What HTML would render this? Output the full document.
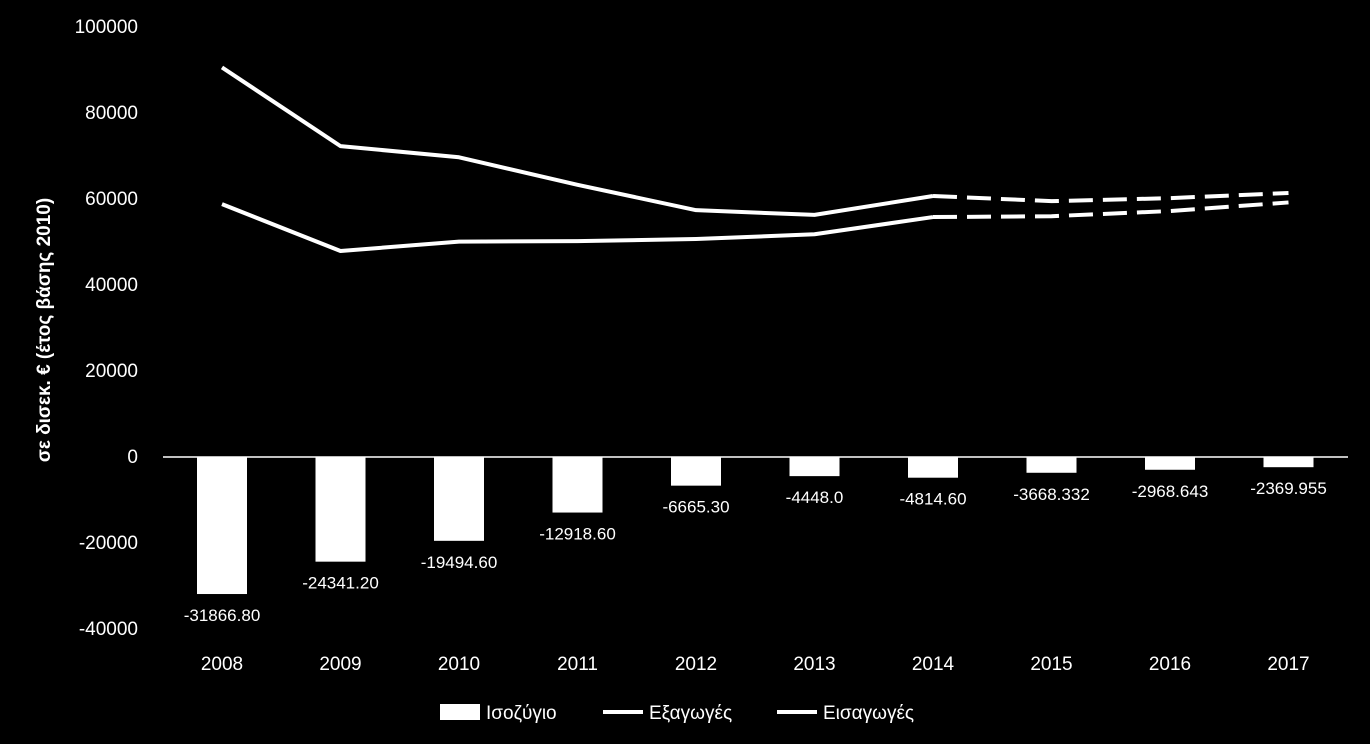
<!DOCTYPE html>
<html><head><meta charset="utf-8"><style>
body{margin:0;background:#000;}
svg{display:block;font-family:"Liberation Sans",sans-serif;}
</style></head><body>
<svg id="c" width="1370" height="744" viewBox="0 0 1370 744">
<rect width="1370" height="744" fill="#000"/>
<text transform="translate(50,330) rotate(-90)" text-anchor="middle" fill="#fff" font-size="19" font-weight="bold">σε δισεκ. € (έτος βάσης 2010)</text>
<g id="yt"></g><g id="xt"></g><g id="bars"></g><g id="lines"></g>
<g>
<rect x="440" y="704" width="40" height="16" fill="#fff"/>
<text x="486" y="719" fill="#fff" font-size="19">Ισοζύγιο</text>
<line x1="603" y1="712" x2="643" y2="712" stroke="#fff" stroke-width="4"/>
<text x="649" y="719" fill="#fff" font-size="19">Εξαγωγές</text>
<line x1="777" y1="712" x2="817" y2="712" stroke="#fff" stroke-width="4"/>
<text x="823" y="719" fill="#fff" font-size="19">Εισαγωγές</text>
</g>
</svg>
<script>
const years=["2008","2009","2010","2011","2012","2013","2014","2015","2016","2017"];
const balance=[-31866.8,-24341.2,-19494.6,-12918.6,-6665.3,-4448.0,-4814.6,-3668.332,-2968.643,-2369.955];
const balanceLabels=["-31866.80","-24341.20","-19494.60","-12918.60","-6665.30","-4448.0","-4814.60","-3668.332","-2968.643","-2369.955"];
const exportsV=[58800,47900,50100,50200,50700,51800,55800,56000,57200,59200];
const importsV=[90600,72300,69700,63300,57400,56300,60700,59500,60200,61400];
const yTicks=[100000,80000,60000,40000,20000,0,-20000,-40000];
const actualCount=7;
const NS="http://www.w3.org/2000/svg";
const y=v=>457-v*0.0043;
const x=i=>222+i*118.5;
function mk(t,a,p){const e=document.createElementNS(NS,t);for(const k in a)e.setAttribute(k,a[k]);p.appendChild(e);return e;}
const yt=document.getElementById('yt');
yTicks.forEach(v=>{const t=mk('text',{x:138,y:y(v)+6,'text-anchor':'end',fill:'#fff','font-size':19},yt);t.textContent=v;

});
const xt=document.getElementById('xt');
const zl=mk('line',{x1:163,x2:1348,y1:y(0),y2:y(0),stroke:'#fff','stroke-width':1.5},xt);


years.forEach((s,i)=>{const t=mk('text',{x:x(i),y:670,'text-anchor':'middle',fill:'#fff','font-size':19},xt);t.textContent=s;

});
const bg=document.getElementById('bars');
balance.forEach((v,i)=>{const r=mk('rect',{x:x(i)-25,y:y(0),width:50,height:y(v)-y(0),fill:'#fff'},bg);


const t=mk('text',{x:x(i),y:y(v)+27,'text-anchor':'middle',fill:'#fff','font-size':17},bg);t.textContent=balanceLabels[i];

});
const lg=document.getElementById('lines');
[[exportsV,'exports'],[importsV,'imports']].forEach(([arr,n])=>{
 const solid=arr.slice(0,actualCount).map((v,i)=>x(i)+','+y(v)).join(' ');
 const dash=arr.slice(actualCount-1).map((v,j)=>x(j+actualCount-1)+','+y(v)).join(' ');
 const a=mk('polyline',{points:solid,fill:'none',stroke:'#fff','stroke-width':4,'stroke-linejoin':'round'},lg);
 
 
 const b=mk('polyline',{points:dash,fill:'none',stroke:'#fff','stroke-width':4,'stroke-dasharray':'24 10'},lg);
 
 
});
</script>
</body></html>
